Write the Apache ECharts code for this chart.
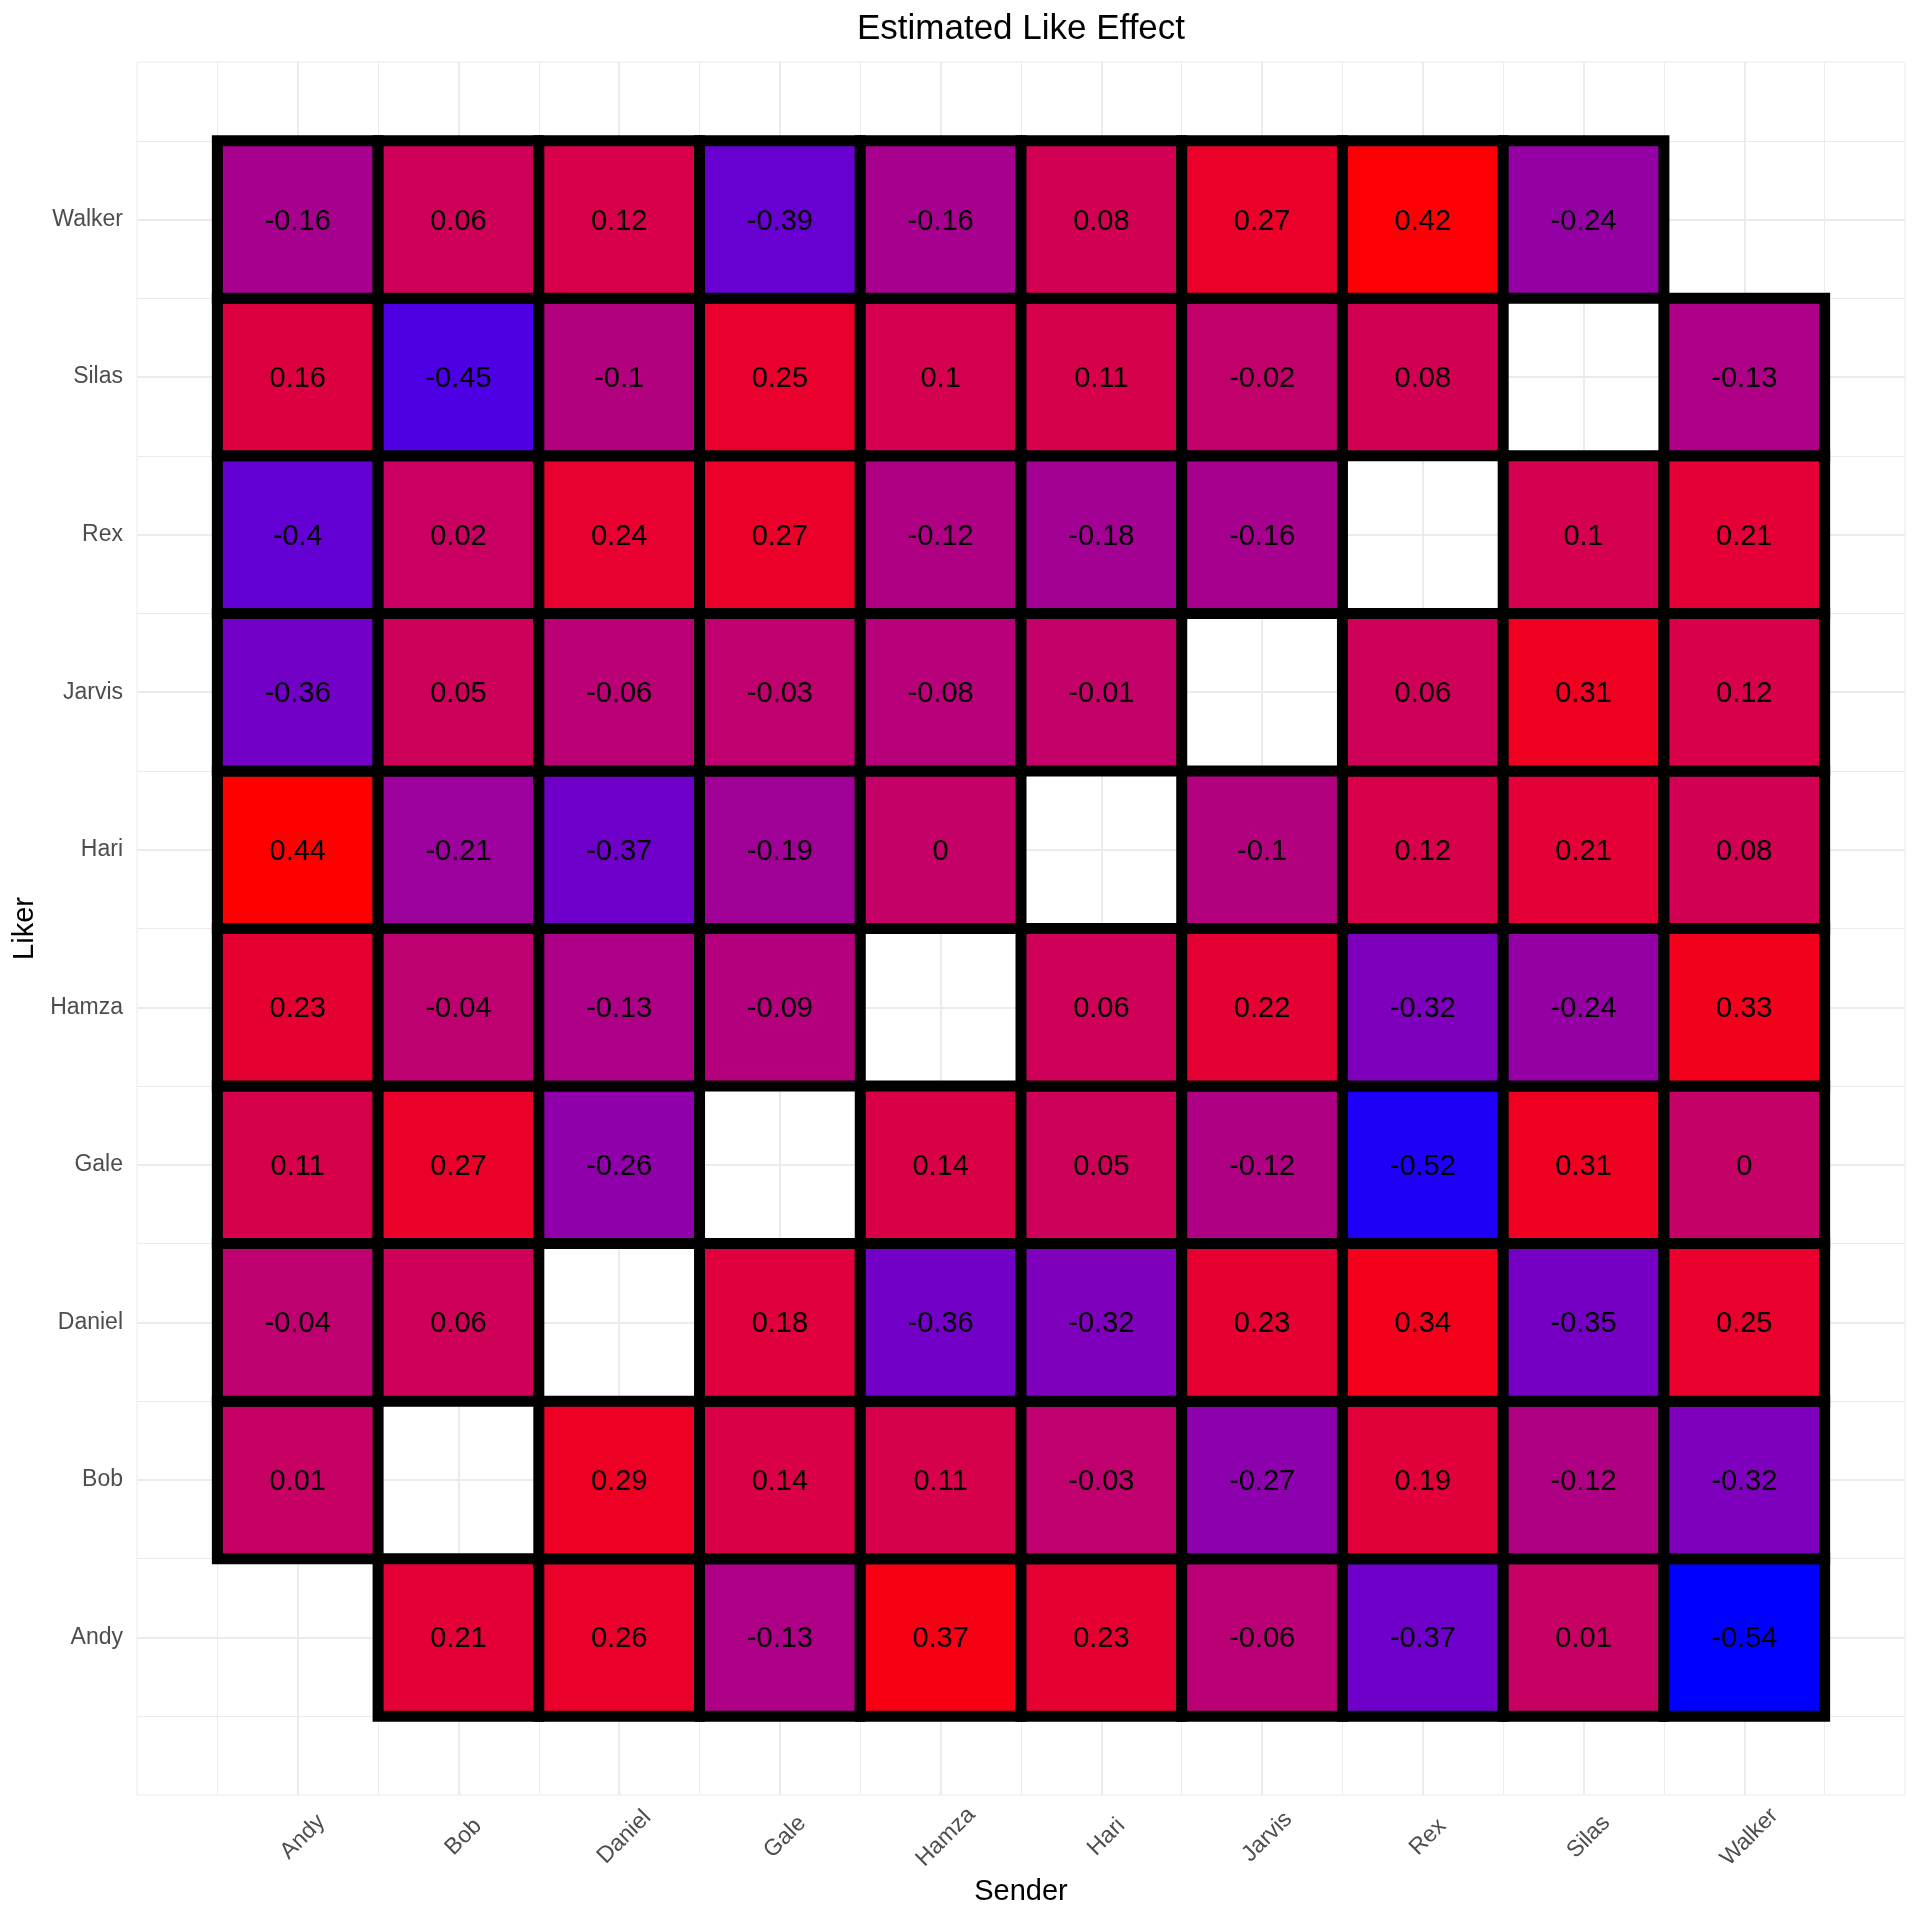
<!DOCTYPE html>
<html>
<head>
<meta charset="utf-8">
<script src="https://cdn.jsdelivr.net/npm/echarts@6/dist/echarts.min.js"></script>
<style>html,body{margin:0;padding:0;background:#fff;}#chart{width:1920px;height:1920px;}</style>
</head>
<body>
<div id="chart"></div>
<script>
// Categories (same people on both axes)
const senders = ['Andy', 'Bob', 'Daniel', 'Gale', 'Hamza', 'Hari', 'Jarvis', 'Rex', 'Silas', 'Walker'];
const likers  = ['Andy', 'Bob', 'Daniel', 'Gale', 'Hamza', 'Hari', 'Jarvis', 'Rex', 'Silas', 'Walker'];

// Values per liker row, in sender order (null = diagonal, no tile)
const likerAndy   = [null, 0.21, 0.26, -0.13, 0.37, 0.23, -0.06, -0.37, 0.01, -0.54];
const likerBob    = [0.01, null, 0.29, 0.14, 0.11, -0.03, -0.27, 0.19, -0.12, -0.32];
const likerDaniel = [-0.04, 0.06, null, 0.18, -0.36, -0.32, 0.23, 0.34, -0.35, 0.25];
const likerGale   = [0.11, 0.27, -0.26, null, 0.14, 0.05, -0.12, -0.52, 0.31, 0];
const likerHamza  = [0.23, -0.04, -0.13, -0.09, null, 0.06, 0.22, -0.32, -0.24, 0.33];
const likerHari   = [0.44, -0.21, -0.37, -0.19, 0, null, -0.1, 0.12, 0.21, 0.08];
const likerJarvis = [-0.36, 0.05, -0.06, -0.03, -0.08, -0.01, null, 0.06, 0.31, 0.12];
const likerRex    = [-0.4, 0.02, 0.24, 0.27, -0.12, -0.18, -0.16, null, 0.1, 0.21];
const likerSilas  = [0.16, -0.45, -0.1, 0.25, 0.1, 0.11, -0.02, 0.08, null, -0.13];
const likerWalker = [-0.16, 0.06, 0.12, -0.39, -0.16, 0.08, 0.27, 0.42, -0.24, null];

const rows = [likerAndy, likerBob, likerDaniel, likerGale, likerHamza, likerHari, likerJarvis, likerRex, likerSilas, likerWalker];

const data = [];
rows.forEach((row, yi) => {
  row.forEach((v, xi) => {
    if (v !== null) data.push([xi + 1, yi + 1, v]);
  });
});
const allVals = data.map(d => d[2]);
const vMin = Math.min.apply(null, allVals);
const vMax = Math.max.apply(null, allVals);

// CIELAB interpolation blue -> red, with a tone adjustment to match the reference rendering
const TONE_GAMMA = 1.28;
function toLin(c) { c /= 255; return c <= 0.04045 ? c / 12.92 : Math.pow((c + 0.055) / 1.055, 2.4); }
function toSrgb(c) { c = Math.max(0, Math.min(1, c)); return c <= 0.0031308 ? 12.92 * c : 1.055 * Math.pow(c, 1 / 2.4) - 0.055; }
function rgb2lab(rgb) {
  const R = toLin(rgb[0]), G = toLin(rgb[1]), B = toLin(rgb[2]);
  const X = (0.4124564 * R + 0.3575761 * G + 0.1804375 * B) / 0.95047;
  const Y = (0.2126729 * R + 0.7151522 * G + 0.0721750 * B);
  const Z = (0.0193339 * R + 0.1191920 * G + 0.9503041 * B) / 1.08883;
  const f = t => t > 0.008856 ? Math.cbrt(t) : 7.787 * t + 16 / 116;
  const fx = f(X), fy = f(Y), fz = f(Z);
  return [116 * fy - 16, 500 * (fx - fy), 200 * (fy - fz)];
}
function lab2rgb(lab) {
  const fy = (lab[0] + 16) / 116, fx = fy + lab[1] / 500, fz = fy - lab[2] / 200;
  const inv = f => { const f3 = f * f * f; return f3 > 0.008856 ? f3 : (f - 16 / 116) / 7.787; };
  const X = inv(fx) * 0.95047, Y = inv(fy), Z = inv(fz) * 1.08883;
  const R = 3.2404542 * X - 1.5371385 * Y - 0.4985314 * Z;
  const G = -0.9692660 * X + 1.8760108 * Y + 0.0415560 * Z;
  const B = 0.0556434 * X - 0.2040259 * Y + 1.0572252 * Z;
  return [R, G, B].map(c => Math.round(255 * Math.pow(toSrgb(c), TONE_GAMMA)));
}
const labLow = rgb2lab([0, 0, 255]);
const labHigh = rgb2lab([255, 0, 0]);
function colorFor(v) {
  const t = (v - vMin) / (vMax - vMin);
  const lab = [0, 1, 2].map(i => labLow[i] + t * (labHigh[i] - labLow[i]));
  const c = lab2rgb(lab);
  return 'rgb(' + c[0] + ',' + c[1] + ',' + c[2] + ')';
}

const FONT = '"Liberation Sans", Arial, sans-serif';
const LABEL_SHIFT = 0.032;
const chart = echarts.init(document.getElementById('chart'), null, { renderer: 'canvas' });

chart.setOption({
  backgroundColor: '#ffffff',
  animation: false,
  title: {
    text: 'Estimated Like Effect',
    left: 1021,
    top: 12,
    padding: 0,
    textAlign: 'center',
    textStyle: { fontFamily: FONT, fontSize: 35, fontWeight: 'normal', color: '#000' }
  },
  grid: {
    left: 137, right: 15, top: 62, bottom: 125,
    show: true, borderColor: '#EBEBEB', borderWidth: 1, backgroundColor: 'transparent'
  },
  xAxis: {
    type: 'value', min: 0, max: 11, interval: 1,
    name: 'Sender', nameLocation: 'middle', nameGap: 80,
    nameTextStyle: { fontFamily: FONT, fontSize: 29, color: '#000' },
    axisLine: { show: false }, axisTick: { show: false },
    axisLabel: {
      rotate: 45, margin: 42, align: 'center', verticalAlign: 'middle',
      customValues: senders.map((s, i) => i + 1 + LABEL_SHIFT),
      fontFamily: FONT, fontSize: 23, color: '#4D4D4D',
      formatter: v => {
        const i = Math.round(v) - 1;
        return (i >= 0 && i < senders.length) ? senders[i] : '';
      }
    },
    splitLine: { show: true, showMinLine: false, showMaxLine: false, lineStyle: { color: '#EBEBEB', width: 2 } },
    minorTick: { show: false, splitNumber: 2 },
    minorSplitLine: { show: true, lineStyle: { color: '#EBEBEB', width: 1 } }
  },
  yAxis: {
    type: 'value', min: 0, max: 11, interval: 1,
    name: 'Liker', nameLocation: 'middle', nameGap: 93, nameRotate: 90,
    nameTextStyle: { fontFamily: FONT, fontSize: 29, color: '#000' },
    axisLine: { show: false }, axisTick: { show: false },
    axisLabel: {
      margin: 14, fontFamily: FONT, fontSize: 23, color: '#4D4D4D',
      formatter: v => (v >= 1 && v <= likers.length && Number.isInteger(v)) ? likers[v - 1] : ''
    },
    splitLine: { show: true, showMinLine: false, showMaxLine: false, lineStyle: { color: '#EBEBEB', width: 2 } },
    minorTick: { show: false, splitNumber: 2 },
    minorSplitLine: { show: true, lineStyle: { color: '#EBEBEB', width: 1 } }
  },
  series: [{
    type: 'custom',
    data: data,
    encode: { x: 0, y: 1 },
    renderItem: function (params, api) {
      const x = api.value(0), y = api.value(1), v = api.value(2);
      const p0 = api.coord([x - 0.5, y + 0.5]);
      const p1 = api.coord([x + 0.5, y - 0.5]);
      const c = api.coord([x, y]);
      return {
        type: 'group',
        children: [
          {
            type: 'rect',
            shape: { x: p0[0], y: p0[1], width: p1[0] - p0[0], height: p1[1] - p0[1] },
            style: { fill: colorFor(v), stroke: '#000', lineWidth: 11 }
          },
          {
            type: 'text',
            x: c[0], y: c[1] + 2,
            style: { text: String(v), fill: '#000', font: '29px ' + FONT, align: 'center', verticalAlign: 'middle' }
          }
        ]
      };
    }
  }]
});
</script>
</body>
</html>
